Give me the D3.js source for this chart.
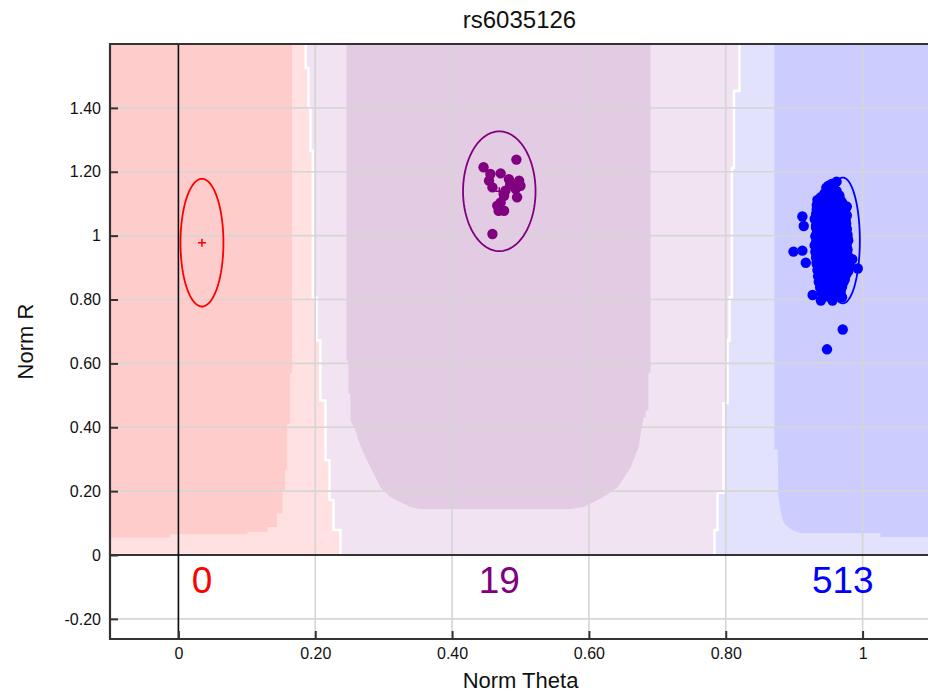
<!DOCTYPE html>
<html><head><meta charset="utf-8">
<script src="https://cdn.jsdelivr.net/npm/d3@7"></script>
<style>
html,body{margin:0;padding:0;background:#fff;}
svg{display:block;font-family:"Liberation Sans",Arial,Helvetica,sans-serif;}
</style></head><body>
<svg id="chart" width="928" height="696"></svg>
<script>
// ---- SNP cluster plot data ----
const snpName = "rs6035126";
const xTicks = [0, 0.2, 0.4, 0.6, 0.8, 1];
const xTickLabels = ["0", "0.20", "0.40", "0.60", "0.80", "1"];
const yTicks = [-0.2, 0, 0.2, 0.4, 0.6, 0.8, 1, 1.2, 1.4];
const yTickLabels = ["-0.20", "0", "0.20", "0.40", "0.60", "0.80", "1", "1.20", "1.40"];

const genotypes = ["AA", "AB", "BB"];
const clusterColors = ["#ff0000", "#800080", "#0000ff"];
const clusterMeanTheta = [0.0344, 0.469, 0.971];
const clusterMeanR = [0.978, 1.139, 0.985];
const clusterSpreadTheta = [0.0314, 0.053, 0.025];
const clusterSpreadR = [0.200, 0.1875, 0.197];

// called samples per genotype, [theta, R]
const aaSamples = [];
const abSamples = [
  [0.494,1.238],[0.446,1.214],[0.456,1.193],[0.471,1.195],[0.454,1.172],
  [0.483,1.177],[0.498,1.172],[0.500,1.156],[0.459,1.151],[0.478,1.141],
  [0.493,1.146],[0.476,1.125],[0.495,1.120],[0.471,1.104],[0.466,1.094],
  [0.468,1.078],[0.476,1.078],[0.459,1.005],[0.485,1.161]
];
// theta R pairs in thousandths
const bbSampleRows = [
  "962 1169 950 1156 955 1162 958 1150 948 1142 953 1138 962 1140 944 1131 957 1128 966 1126 939 1120 950 1118 960 1115 934 1112 945 1108 955 1105 968 1110 941 1100 963 1098 952 1096",
  "936 1092 947 1090 958 1088 971 1090 977 1091 933 1082 942 1080 951 1078 960 1080 968 1076 938 1070 946 1068 955 1071 964 1066 973 1069 935 1061 944 1058 952 1062 961 1057 970 1060",
  "912 1060 930 1052 939 1050 948 1049 957 1052 966 1048 975 1050 934 1043 943 1040 952 1042 961 1039 970 1041 937 1034 946 1031 955 1033 964 1030 973 1032 914 1030 940 1046 958 1045",
  "932 1025 941 1023 950 1026 959 1022 968 1024 977 1021 935 1016 944 1014 953 1017 962 1013 971 1015 933 1007 942 1005 951 1008 960 1004 969 1006 978 1003 947 1020 956 1010 965 1018",
  "931 998 940 996 949 999 958 995 967 997 976 994 934 989 943 987 952 990 961 986 970 988 979 985 932 979 941 977 950 980 959 976 968 978 977 975 946 992 955 983",
  "930 969 939 967 948 970 957 966 966 968 975 965 933 960 942 958 951 961 960 957 969 959 978 956 931 950 940 948 949 951 958 947 967 949 976 946 899 950 912 953",
  "934 940 943 938 952 941 961 937 970 939 979 936 932 931 941 929 950 932 959 928 968 930 977 927 935 921 944 919 953 922 962 918 971 920 980 917 917 915 985 926",
  "933 911 942 909 951 912 960 908 969 910 978 907 936 902 945 900 954 903 963 899 972 901 993 897 934 892 943 890 952 893 961 889 970 891 979 888 947 906 956 896",
  "937 882 946 880 955 883 964 879 973 881 935 873 944 871 953 874 962 870 971 872 938 864 947 862 956 865 965 861 974 863 936 855 945 853 954 856 963 852 972 854",
  "940 846 949 844 958 847 967 843 938 837 947 835 956 838 965 834 941 828 950 826 959 829 968 825 945 819 954 817 963 820 927 814 939 797 956 797 970 807 948 810",
  "971 706 948 644 950 1000 955 1000 953 960 958 940 948 920 955 975 962 1000 945 955 960 965 952 935 957 1015 949 1035 963 985 944 975 966 950 951 905 957 925 946 990",
  "936 1085 949 1083 961 1072 940 1064 957 1066 969 1054 945 1056 938 1038 953 1036 966 1035 942 1018 958 1028 972 1027 935 1011 950 1012 964 1009 939 994 954 993 968 991 974 982",
  "937 983 948 984 959 981 971 970 936 963 947 964 963 972 973 961 938 954 955 955 965 943 974 951 937 944 946 942 960 933 972 934 939 926 949 924 963 923 975 912",
  "940 914 953 915 966 913 938 904 949 896 959 902 967 894 975 895 940 885 951 886 960 884 968 886 939 876 950 877 959 875 967 868 941 867 952 868 960 858 949 850",
  "944 1093 953 1085 965 1082 939 1075 950 1074 962 1061 974 1075 937 1050 949 1052 960 1046 970 1043 943 1028 955 1024 967 1031 976 1037 934 1020 946 1006 961 1019 973 1010 955 1052",
  "942 1000 951 996 965 993 977 999 933 986 944 980 957 988 966 982 976 967 935 974 950 966 961 962 970 953 934 957 948 947 958 951 971 944 942 935 956 929 966 938",
  "936 925 947 929 958 920 969 923 978 931 943 912 955 908 964 906 973 904 936 896 946 893 957 890 966 897 976 889 942 878 954 880 963 877 971 878 944 860 957 861",
  "965 855 952 849 961 842 944 840 953 831 962 836 946 826 957 822 966 830 951 815 938 848 970 866 940 858 973 872 949 1122 958 1124 943 1115 966 1118 952 1130 947 1150",
  "955 1145 960 1134 951 1109 937 1104 964 1106 971 1098 945 1097 957 1094 933 1096 939 1086 955 1077 966 1094 975 1083 943 1072 948 1062 966 1058 977 1063 932 1068 941 1053 969 1047",
  "936 1046 951 1045 962 1042 975 1044 940 1033 959 1034 969 1035 932 1032 945 1024 953 1021 963 1025 971 1020 938 1016 948 1010 958 1007 967 1012 976 1008 934 1001 953 1003 962 996",
  "970 1002 978 992 938 987 949 986 958 985 967 988 975 979 932 973 944 970 954 969 965 974 973 973 939 962 951 957 960 954 969 965 977 960 932 945 944 951 955 945",
  "964 947 975 942 936 936 948 937 957 933 968 927 977 923 933 917 945 916 957 912 969 916 980 910 937 907 948 903 962 893 972 898 982 902 939 896 953 889 964 891",
  "974 883 937 887 945 883 957 879 966 881 976 878 939 870 948 872 961 866 969 874 937 860 946 857 955 859 968 859 943 851 956 852 966 847 942 843 951 839 960 834",
  "970 840 944 832 955 826 964 824 948 821 959 818 940 822 952 1115 961 1120 946 1125 940 1110 956 1113 965 1112 944 1104 950 1103 959 1101 970 1104 947 1088 958 1080 965 1088",
  "953 1092 942 1074 952 1068 963 1077 971 1066 937 1057 947 1065 956 1058 966 1063 974 1056 940 1042 950 1039 961 1054 968 1039 936 1027 945 1034 956 1030 964 1019 974 1016 941 1010",
  "951 1017 960 1026 969 1012 937 998 948 1002 957 997 966 1005 975 1000 941 990 953 978 962 977 971 983 946 971"
];

// call-region boundaries: [theta, R top, R bottom] steps
const aaAbBoundary = [
  [0.186, 1.6, 1.525], [0.190, 1.525, 1.40], [0.193, 1.40, 1.266], [0.1966, 1.266, 0.806],
  [0.2018, 0.806, 0.672], [0.2076, 0.672, 0.484], [0.2149, 0.484, 0.297], [0.2208, 0.297, 0.172],
  [0.2266, 0.172, 0.078], [0.2368, 0.078, 0]
];
const abBbBoundary = [
  [0.820, 1.6, 1.453], [0.812, 1.453, 1.2125], [0.809, 1.2125, 0.806], [0.8056, 0.806, 0.672],
  [0.8026, 0.672, 0.475], [0.7968, 0.475, 0.194], [0.788, 0.194, 0.078], [0.7836, 0.078, 0]
];
// high-confidence cores, [theta, R] outlines
const aaCore = [
  [-0.1, 1.6], [0.166, 1.6], [0.166, 0.569], [0.163, 0.569], [0.163, 0.41], [0.159, 0.41],
  [0.159, 0.266], [0.156, 0.266], [0.156, 0.203], [0.152, 0.203], [0.152, 0.131], [0.144, 0.131],
  [0.144, 0.088], [0.130, 0.088], [0.130, 0.073], [0.101, 0.073], [0.101, 0.065], [-0.012, 0.065],
  [-0.012, 0.055], [-0.1, 0.055]
];
const abCore = [
  [0.2456, 1.6], [0.690, 1.6], [0.690, 0.569], [0.687, 0.569], [0.687, 0.453], [0.683, 0.453],
  [0.683, 0.431], [0.680, 0.431], [0.6725, 0.3375], [0.661, 0.275], [0.642, 0.2125],
  [0.621, 0.181], [0.592, 0.150], [0.573, 0.144], [0.354, 0.144], [0.339, 0.150],
  [0.310, 0.181], [0.2953, 0.2125], [0.2807, 0.275], [0.2705, 0.319], [0.263, 0.360],
  [0.2588, 0.391], [0.2515, 0.422], [0.2515, 0.506], [0.2485, 0.506], [0.2485, 0.609],
  [0.2456, 0.609]
];
const bbCore = [
  [0.871, 1.6], [1.1, 1.6], [1.1, 0.056], [1.026, 0.056], [1.026, 0.069], [0.909, 0.069],
  [0.897, 0.078], [0.887, 0.095], [0.883, 0.11], [0.880, 0.14], [0.877, 0.181], [0.876, 0.33],
  [0.871, 0.33]
];
const regionLight = ["#ffe1e1", "#f1e3f1", "#e2e2fc"];
const regionCore = ["#ffcccc", "#e3cbe3", "#ccccff"];

// ---- layout ----
const svg = d3.select("#chart");
const plot = { left: 110, right: 931, top: 44, bottom: 639 };
const x = d3.scaleLinear().domain([-0.1, 1.1]).range([plot.left, plot.right]);
const y = d3.scaleLinear().domain([-0.263, 1.6]).range([plot.bottom, plot.top]);

const bbSamples = (() => {
  const v = bbSampleRows.join(" ").trim().split(/\s+/).map(Number);
  const out = [];
  for (let i = 0; i < v.length; i += 2) out.push([v[i] / 1000, v[i + 1] / 1000]);
  return out;
})();
const samples = [aaSamples, abSamples, bbSamples];

svg.append("defs").append("clipPath").attr("id", "plotClip")
  .append("rect").attr("x", plot.left).attr("y", plot.top)
  .attr("width", plot.right - plot.left).attr("height", plot.bottom - plot.top);

const g = svg.append("g").attr("clip-path", "url(#plotClip)");
const line = d3.line().x(d => x(d[0])).y(d => y(d[1]));
const stepPoints = segs => segs.flatMap(s => [[s[0], s[1]], [s[0], s[2]]]);

const left = stepPoints(aaAbBoundary);
const right = stepPoints(abBbBoundary);
const lightRegions = [
  [[-0.1, 1.6], ...left, [-0.1, 0]],
  [...left, ...right.slice().reverse()],
  [...right, [1.1, 0], [1.1, 1.6]]
];
g.selectAll("path.light").data(lightRegions).join("path")
  .attr("class", "light").attr("d", d => line(d) + "Z")
  .attr("fill", (d, i) => regionLight[i]);
g.selectAll("path.core").data([aaCore, abCore, bbCore]).join("path")
  .attr("class", "core").attr("d", d => line(d) + "Z")
  .attr("fill", (d, i) => regionCore[i]);
g.selectAll("path.boundary").data([left, right]).join("path")
  .attr("class", "boundary").attr("d", line)
  .attr("fill", "none").attr("stroke", "#fff").attr("stroke-width", 2.5);

// grid
g.selectAll("line.hgrid").data(yTicks).join("line").attr("class", "hgrid")
  .attr("x1", plot.left).attr("x2", plot.right).attr("y1", d => y(d)).attr("y2", d => y(d))
  .attr("stroke", "#d6d6d6").attr("stroke-width", 1.6);
g.selectAll("line.vgrid").data(xTicks).join("line").attr("class", "vgrid")
  .attr("y1", plot.top).attr("y2", plot.bottom).attr("x1", d => x(d)).attr("x2", d => x(d))
  .attr("stroke", "#d6d6d6").attr("stroke-width", 1.6);

// cluster ellipses
const angles = d3.range(0, 361, 4).map(a => a * Math.PI / 180);
const ellipses = genotypes.map((k, i) => angles.map(a => [
  clusterMeanTheta[i] + clusterSpreadTheta[i] * Math.cos(a),
  clusterMeanR[i] + clusterSpreadR[i] * Math.sin(a)
]));
g.selectAll("path.ellipse").data(ellipses).join("path").attr("class", "ellipse")
  .attr("d", line).attr("fill", "none")
  .attr("stroke", (d, i) => clusterColors[i]).attr("stroke-width", 1.8);

// cluster centre crosses
genotypes.forEach((k, i) => {
  const cx = x(clusterMeanTheta[i]), cy = y(clusterMeanR[i]);
  g.append("path").attr("d", `M${cx - 4},${cy}H${cx + 4}M${cx},${cy - 4}V${cy + 4}`)
    .attr("stroke", clusterColors[i]).attr("stroke-width", 1.5);
});

// samples
samples.forEach((pts, i) => {
  g.append("g").selectAll("circle").data(pts).join("circle")
    .attr("cx", d => x(d[0])).attr("cy", d => y(d[1])).attr("r", 5.2)
    .attr("fill", clusterColors[i]);
});

// baseline at R = 0, theta = 0 and frame
svg.append("line").attr("x1", plot.left).attr("x2", plot.right).attr("y1", y(0)).attr("y2", y(0))
  .attr("stroke", "#333").attr("stroke-width", 2.2);
svg.append("line").attr("x1", x(0)).attr("x2", x(0)).attr("y1", plot.top).attr("y2", plot.bottom)
  .attr("stroke", "#111").attr("stroke-width", 1.6);
svg.append("path").attr("d", `M${plot.right + 2},${plot.top}H${plot.left}V${plot.bottom}H${plot.right + 2}`)
  .attr("fill", "none").attr("stroke", "#333").attr("stroke-width", 2.2);

// axes
const yAxis = svg.append("g").attr("transform", `translate(${plot.left},0)`)
  .call(d3.axisLeft(y).tickValues(yTicks).tickFormat((d, i) => yTickLabels[i])
    .tickSizeInner(-8).tickSizeOuter(0).tickPadding(9));
const xAxis = svg.append("g").attr("transform", `translate(0,${plot.bottom})`)
  .call(d3.axisBottom(x).tickValues(xTicks).tickFormat((d, i) => xTickLabels[i])
    .tickSizeInner(-8).tickSizeOuter(0).tickPadding(9));
[yAxis, xAxis].forEach(a => {
  a.select(".domain").remove();
  a.selectAll(".tick line").attr("stroke", "#333").attr("stroke-width", 2);
  a.selectAll(".tick text").attr("fill", "#111").style("font-family", "Liberation Sans, Arial, sans-serif");
});
yAxis.selectAll(".tick text").style("font-size", "16px");
xAxis.selectAll(".tick text").style("font-size", "16px");

// genotype counts
svg.selectAll("text.count").data(genotypes).join("text").attr("class", "count")
  .attr("x", (d, i) => x(clusterMeanTheta[i])).attr("y", y(0) + 38)
  .attr("text-anchor", "middle").attr("fill", (d, i) => clusterColors[i])
  .style("font-size", "37px").text((d, i) => samples[i].length);

// titles
svg.append("text").attr("x", (plot.left + plot.right) / 2 - 1).attr("y", 28)
  .attr("text-anchor", "middle").style("font-size", "24px").attr("fill", "#111").text(snpName);
svg.append("text").attr("x", (plot.left + plot.right) / 2).attr("y", 688)
  .attr("text-anchor", "middle").style("font-size", "22px").attr("fill", "#111").text("Norm Theta");
svg.append("text").attr("transform", `translate(33,${(y(-0.263) + y(1.6)) / 2}) rotate(-90)`)
  .attr("text-anchor", "middle").style("font-size", "22px").attr("fill", "#111").text("Norm R");
</script>
</body></html>
